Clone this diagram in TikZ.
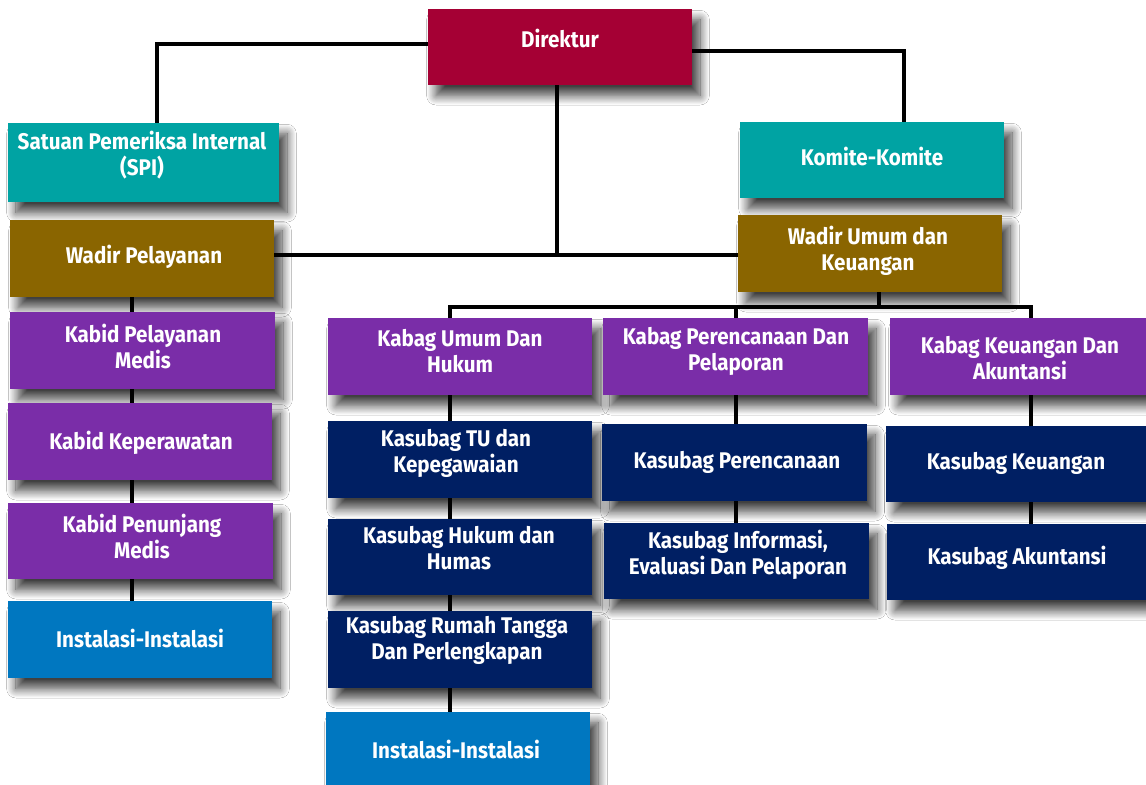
\documentclass[tikz,border=0pt]{standalone}
\usepackage{fontspec}
\newfontfamily\boxfont[FakeStretch=0.91]{Fira Sans}
\usetikzlibrary{fit,shadows.blur}
\definecolor{cRed}{RGB}{165,0,52}
\definecolor{cTeal}{RGB}{0,163,163}
\definecolor{cBrown}{RGB}{138,101,0}
\definecolor{cPurple}{RGB}{122,45,168}
\definecolor{cNavy}{RGB}{0,31,99}
\definecolor{cBlue}{RGB}{0,119,192}
\begin{document}
\begin{tikzpicture}[x=0.75pt,y=-0.75pt,
  bx/.style={rectangle, inner sep=0pt, draw=none,
    blur shadow={shadow xshift=6pt, shadow yshift=-8pt, shadow blur radius=7pt, shadow opacity=75, shadow blur steps=14}},
  tx/.style={text=white, font=\boxfont\bfseries\fontsize{17}{19.5}\selectfont, align=center, inner sep=0pt},
  conn/.style={line width=3pt, black}]
\useasboundingbox (0,0) rectangle (1146,785);
\fill[white] (0,0) rectangle (1146,785);

% boxes
\node[bx, fill=cRed,    fit={(428,9)(692,85)}]     (dir) {};
\node[bx, fill=cTeal,   fit={(8,123)(279,202)}]    (spi) {};
\node[bx, fill=cTeal,   fit={(740,122)(1004,198)}] (kom) {};
\node[bx, fill=cBrown,  fit={(10,220)(274,297)}]   (wp)  {};
\node[bx, fill=cBrown,  fit={(738,215)(1002,292)}] (wu)  {};
\node[bx, fill=cPurple, fit={(10,312)(275,389)}]   (kpm) {};
\node[bx, fill=cPurple, fit={(8,403)(272,480)}]    (kk)  {};
\node[bx, fill=cPurple, fit={(8,503)(273,579)}]    (kpn) {};
\node[bx, fill=cBlue,   fit={(8,601)(272,678)}]    (ins1) {};
\node[bx, fill=cPurple, fit={(328,318)(592,395)}]  (kbu) {};
\node[bx, fill=cPurple, fit={(603,318)(868,395)}]  (kbp) {};
\node[bx, fill=cPurple, fit={(890,318)(1150,395)}] (kbk) {};
\node[bx, fill=cNavy,   fit={(328,421)(592,498)}]  (ktu) {};
\node[bx, fill=cNavy,   fit={(328,519)(592,595)}]  (khh) {};
\node[bx, fill=cNavy,   fit={(328,611)(592,688)}]  (krt) {};
\node[bx, fill=cBlue,   fit={(326,712)(590,792)}]  (ins2) {};
\node[bx, fill=cNavy,   fit={(602,424)(867,501)}]  (kpr) {};
\node[bx, fill=cNavy,   fit={(604,523)(869,599)}]  (kie) {};
\node[bx, fill=cNavy,   fit={(886,426)(1150,502)}] (kku) {};
\node[bx, fill=cNavy,   fit={(887,524)(1150,600)}] (kak) {};

% texts
\node[tx] (dirT) at (560,39) {Direktur};
\node[tx] (spiT) at (142,155) {Satuan Pemeriksa Internal\\(SPI)};
\node[tx] (komT) at (872,157) {Komite-Komite};
\node[tx] (wpT)  at (144,257) {Wadir Pelayanan};
\node[tx] (wuT)  at (868,251) {Wadir Umum dan\\Keuangan};
\node[tx] (kpmT) at (143,346) {Kabid Pelayanan\\Medis};
\node[tx] (kkT)  at (141,443) {Kabid Keperawatan};
\node[tx] (kpnT) at (142,536) {Kabid Penunjang\\Medis};
\node[tx] (ins1T) at (140,638) {Instalasi-Instalasi};
\node[tx] (kbuT) at (460,351) {Kabag Umum Dan\\Hukum};
\node[tx] (kbpT) at (736,351) {Kabag Perencanaan Dan\\Pelaporan};
\node[tx] (kbkT) at (1020,358) {Kabag Keuangan Dan\\Akuntansi};
\node[tx] (ktuT) at (456,453) {Kasubag TU dan\\Kepegawaian};
\node[tx] (khhT) at (459,548) {Kasubag Hukum dan\\Humas};
\node[tx] (krtT) at (457,640) {Kasubag Rumah Tangga\\Dan Perlengkapan};
\node[tx] (ins2T) at (456,749) {Instalasi-Instalasi};
\node[tx] (kprT) at (737,462) {Kasubag Perencanaan};
\node[tx] (kieT) at (738,555) {Kasubag Informasi,\\Evaluasi Dan Pelaporan};
\node[tx] (kkuT) at (1016,463) {Kasubag Keuangan};
\node[tx] (kakT) at (1017,558) {Kasubag Akuntansi};

% junction coordinates
\coordinate (jn) at (557,255);
\coordinate (busL) at (450,307);
\coordinate (busM) at (736,307);
\coordinate (busC) at (879,307);
\coordinate (busR) at (1031,307);

% connectors
\draw[conn] (dir.west |- 0,44) -| (spi.north -| 157,0);
\draw[conn] (dir.east |- 0,51) -| (kom.north -| 904,0);
\draw[conn] (dir.south -| jn) -- (jn);
\draw[conn] (wp.east |- jn) -- (wu.west |- jn);
\draw[conn] (wu.south -| busC) -- (busC);
\draw[conn] (kbu.north -| busL) -- (busL) -- (busR) -- (kbk.north -| busR);
\draw[conn] (busM) -- (kbp.north -| busM);

\draw[conn] (wp.south -| 132,0) -- (kpm.north -| 132,0);
\draw[conn] (kpm.south -| 132,0) -- (kk.north -| 132,0);
\draw[conn] (kk.south -| 132,0) -- (kpn.north -| 132,0);
\draw[conn] (kpn.south -| 132,0) -- (ins1.north -| 132,0);

\draw[conn] (kbu.south -| busL) -- (ktu.north -| busL);
\draw[conn] (ktu.south -| busL) -- (khh.north -| busL);
\draw[conn] (khh.south -| busL) -- (krt.north -| busL);
\draw[conn] (krt.south -| busL) -- (ins2.north -| busL);

\draw[conn] (kbp.south -| busM) -- (kpr.north -| busM);
\draw[conn] (kpr.south -| busM) -- (kie.north -| busM);

\draw[conn] (kbk.south -| busR) -- (kku.north -| busR);
\draw[conn] (kku.south -| busR) -- (kak.north -| busR);
\end{tikzpicture}
\end{document}
